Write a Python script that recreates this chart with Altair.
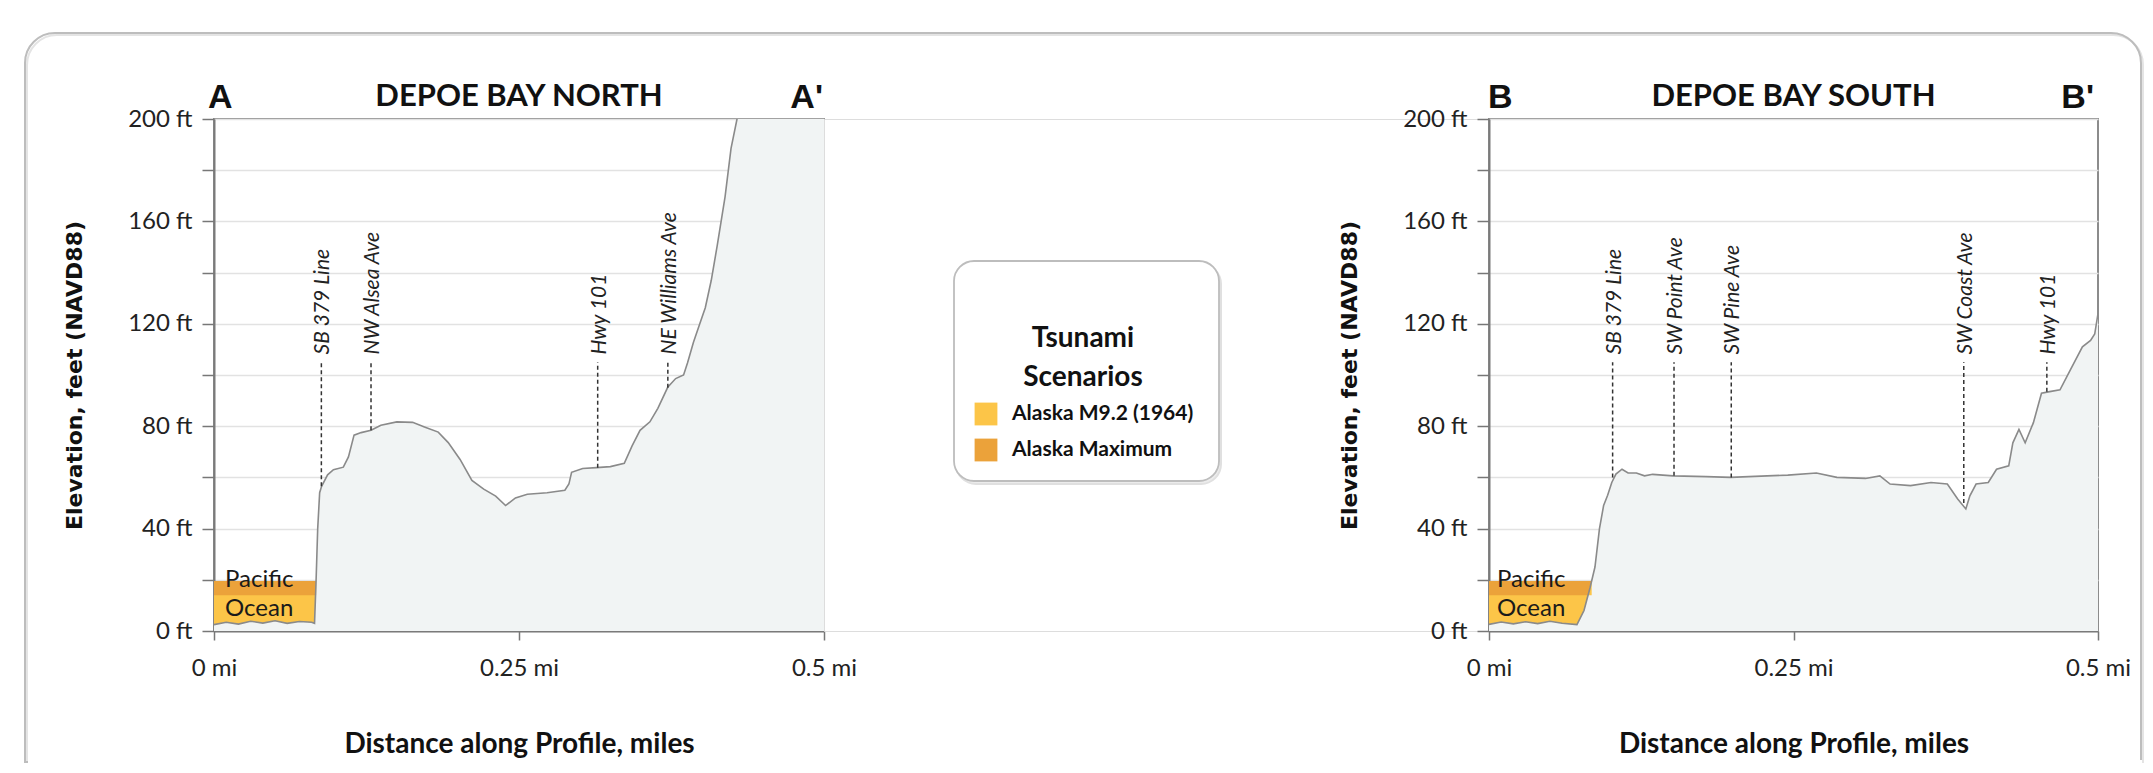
import altair as alt
import pandas as pd

# ---------------- data ----------------
north_dist = [0, 0.01, 0.02, 0.03, 0.04, 0.05, 0.06, 0.07, 0.08, 0.0824, 0.0837, 0.0850, 0.0866, 0.0882,
              0.0931, 0.0979, 0.1060, 0.1102, 0.1148, 0.1206, 0.1287, 0.1368, 0.1498, 0.1628, 0.1725,
              0.1838, 0.1920, 0.2017, 0.2114, 0.2211, 0.2309, 0.2390, 0.2471, 0.2568, 0.2730, 0.2876,
              0.2909, 0.2931, 0.3022, 0.3135, 0.3249, 0.3363, 0.3427, 0.3492, 0.3573, 0.3638, 0.3719,
              0.3784, 0.3849, 0.3881, 0.3930, 0.3979, 0.4027, 0.4076, 0.4125, 0.4189, 0.4238, 0.4287,
              0.4500, 0.5000]
north_elev = [2.5, 3.4, 2.7, 3.8, 3.1, 4.0, 3.0, 3.7, 3.4, 3.0, 20.0, 40.0, 54.0, 56.5,
              61.0, 63.0, 64.0, 68.0, 76.5, 77.5, 78.4, 80.4, 81.7, 81.5, 79.7,
              77.7, 73.6, 67.0, 58.8, 55.4, 52.7, 49.0, 52.0, 53.4, 54.0, 55.0,
              57.4, 62.0, 63.5, 63.8, 64.2, 65.5, 72.3, 78.4, 81.7, 87.0, 95.2,
              98.6, 100.0, 104.7, 112.8, 119.6, 126.3, 137.0, 150.6, 169.6, 188.5, 200.0,
              225.0, 260.0]

south_dist = [0, 0.01, 0.02, 0.03, 0.04, 0.05, 0.06, 0.0722, 0.0780, 0.0830, 0.0870, 0.0907, 0.0941,
              0.0974, 0.1008, 0.1042, 0.1092, 0.1142, 0.1210, 0.1277, 0.1344, 0.1512, 0.1781, 0.1983,
              0.2285, 0.2453, 0.2688, 0.2856, 0.3091, 0.3209, 0.3293, 0.3461, 0.3629, 0.3763, 0.3848,
              0.3915, 0.3948, 0.3999, 0.4099, 0.4167, 0.4267, 0.4301, 0.4351, 0.4402, 0.4469, 0.4536,
              0.4603, 0.4688, 0.4772, 0.4872, 0.4939, 0.4973, 0.5]
south_elev = [2.6, 3.5, 2.8, 3.6, 2.9, 3.8, 3.0, 2.5, 8.0, 17.0, 25.0, 40.0, 49.0,
              53.0, 58.0, 61.3, 63.2, 61.7, 61.7, 60.6, 61.2, 60.6, 60.3, 60.0,
              60.6, 60.9, 61.7, 60.0, 59.6, 60.6, 57.4, 56.8, 58.0, 57.4, 51.6,
              47.7, 52.8, 57.4, 58.0, 63.2, 64.5, 73.5, 78.7, 73.5, 81.3, 92.9,
              93.5, 94.2, 101.9, 111.0, 113.5, 116.0, 124.0]

north_sea_dist = [0, 0.01, 0.02, 0.03, 0.04, 0.05, 0.06, 0.07, 0.08, 0.0824, 0.0837]
north_sea_floor = [2.5, 3.4, 2.7, 3.8, 3.1, 4.0, 3.0, 3.7, 3.4, 3.0, 19.5]
south_sea_dist = [0, 0.01, 0.02, 0.03, 0.04, 0.05, 0.06, 0.0722, 0.0780, 0.0830, 0.0843]
south_sea_floor = [2.6, 3.5, 2.8, 3.6, 2.9, 3.8, 3.0, 2.5, 8.0, 17.0, 19.5]

scenarios = ["Alaska M9.2 (1964)", "Alaska Maximum"]
scenario_colors = ["#FCC548", "#EBA23A"]
scenario_levels = [14.0, 19.5]

north_streets = ["SB 379 Line", "NW Alsea Ave", "Hwy 101", "NE Williams Ave"]
north_street_dist = [0.088, 0.1287, 0.3145, 0.372]
north_street_base = [56.5, 78.4, 63.8, 95.0]

south_streets = ["SB 379 Line", "SW Point Ave", "SW Pine Ave", "SW Coast Ave", "Hwy 101"]
south_street_dist = [0.1015, 0.1519, 0.1989, 0.3898, 0.458]
south_street_base = [60.0, 60.6, 60.0, 50.0, 93.5]

marker_top = 105.0
label_start = 108.0

ocean_words = ["Pacific", "Ocean"]
ocean_word_elev = [19.9, 8.6]

x_ticks = [0, 0.25, 0.5]
y_ticks = list(range(0, 201, 20))

# ---------------- layout constants ----------------
PLOT_H = 512
LEFT_W = 610
RIGHT_W = 609
GAP_W = 665

LAND = "#F1F4F4"
LINE = "#8a8a8a"


def make_x(field, width):
    return alt.X(
        f"{field}:Q",
        scale=alt.Scale(domain=[0, 0.5], nice=False, zero=False),
        title="Distance along Profile, miles",
        axis=alt.Axis(
            values=x_ticks,
            labelExpr="datum.value + ' mi'",
            grid=False,
            tickSize=9, tickColor="#777", tickWidth=1.5,
            domainColor="#7a7a7a", domainWidth=2,
            labelFont="Lato", labelFontSize=24, labelColor="#222",
            labelPadding=16, labelFlush=False, labelOverlap=False,
            titleFont="Lato", titleFontWeight="bold", titleFontSize=28, titleColor="#111",
            titleX=width / 2, titleY=113, titleBaseline="middle", titleAlign="center",
        ),
    )


def make_y(field):
    return alt.Y(
        f"{field}:Q",
        scale=alt.Scale(domain=[0, 200], nice=False),
        title="Elevation, feet (NAVD88)",
        axis=alt.Axis(
            values=y_ticks,
            labelExpr="datum.value % 40 == 0 ? datum.value + ' ft' : ''",
            grid=True, gridColor="#e2e2e2", gridWidth=1.5,
            tickSize=12, tickColor="#777", tickWidth=1.5,
            domainColor="#7a7a7a", domainWidth=2,
            labelFont="Lato", labelFontSize=24, labelColor="#222",
            labelPadding=10, labelFlush=False, labelOverlap=False,
            titleFont="DejaVu Sans", titleFontWeight="bold", titleFontSize=22, titleColor="#111",
            titleX=-140, titleY=PLOT_H / 2, titleAngle=270,
            titleAlign="center", titleBaseline="middle",
        ),
    )


def profile_panel(dist, elev, sea_dist, sea_floor, streets, st_dist, st_base,
                  title, left_letter, right_letter, width, word_x, left_dx, right_dx, frame=False):
    prof = pd.DataFrame({"dist": dist, "elev": elev})
    sea_rows = []
    for name, lvl in zip(scenarios, scenario_levels):
        for d, f in zip(sea_dist, sea_floor):
            sea_rows.append({"dist": d, "elev": f, "level": lvl, "scenario": name})
    sea = pd.DataFrame(sea_rows)
    st = pd.DataFrame({"dist": st_dist, "elev": st_base, "top": [marker_top] * len(st_dist),
                       "lab": [label_start] * len(st_dist), "name": streets})
    words = pd.DataFrame({"dist": [word_x] * len(ocean_words), "elev": ocean_word_elev, "w": ocean_words})
    heads = pd.DataFrame({"dist": [0, 0.25, 0.5], "t": [left_letter, title, right_letter]})

    X = make_x("dist", width)
    Y = make_y("elev")

    land = alt.Chart(prof).mark_area(color=LAND, clip=True).encode(x=X, y=Y)
    line = alt.Chart(prof).mark_line(color=LINE, strokeWidth=1.6, clip=True).encode(x=X, y=Y)

    sea_layers = []
    for name, col in zip(reversed(scenarios), reversed(scenario_colors)):
        sea_layers.append(
            alt.Chart(sea).transform_filter(alt.datum.scenario == name)
            .mark_area(color=col, opacity=1)
            .encode(x=X, y=Y, y2="level:Q")
        )

    rules = alt.Chart(st).mark_rule(color="#333", strokeWidth=1.5, strokeDash=[4, 3]).encode(
        x=X, y=Y, y2="top:Q")
    labels = alt.Chart(st).mark_text(angle=270, align="left", baseline="middle", font="Lato",
                                     fontSize=21, fontStyle="italic", color="#222", dy=2).encode(
        x=X, y=make_y("lab"), text="name:N")
    ocean_txt = alt.Chart(words).mark_text(align="left", baseline="middle", font="Lato",
                                           fontSize=24, color="#1a1a1a").encode(
        x=X, y=Y, text="w:N")

    a_txt = alt.Chart(heads.iloc[[0]]).mark_text(align="left", baseline="alphabetic", font="Liberation Sans",
                                                fontWeight="bold", fontSize=34, color="#111", dx=left_dx).encode(
        x=X, y=alt.value(-11), text="t:N")
    t_txt = alt.Chart(heads.iloc[[1]]).mark_text(align="center", baseline="alphabetic", font="Lato",
                                                fontWeight="bold", fontSize=31, color="#111").encode(
        x=X, y=alt.value(-13), text="t:N")
    b_txt = alt.Chart(heads.iloc[[2]]).mark_text(align="right", baseline="alphabetic", font="Liberation Sans",
                                                fontWeight="bold", fontSize=34, color="#111", dx=right_dx).encode(
        x=X, y=alt.value(-11), text="t:N")

    layers = [land] + sea_layers + [line, rules, labels, ocean_txt, a_txt, t_txt, b_txt]

    if frame:
        one = pd.DataFrame({"k": [0]})
        shadow = alt.Chart(one).mark_rect(fillOpacity=0, stroke="#e4e4e4", strokeWidth=2,
                                          cornerRadiusTopLeft=30, cornerRadiusTopRight=30).encode(
            x=alt.value(-187), x2=alt.value(1929), y=alt.value(-84), y2=alt.value(643))
        panel = alt.Chart(one).mark_rect(fillOpacity=0, stroke="#bdbdbd", strokeWidth=2,
                                         cornerRadiusTopLeft=30, cornerRadiusTopRight=30).encode(
            x=alt.value(-189), x2=alt.value(1927), y=alt.value(-86), y2=alt.value(643))
        cover = alt.Chart(one).mark_rule(color="white", strokeWidth=4).encode(
            x=alt.value(-186), x2=alt.value(1928), y=alt.value(643))
        layers = layers + [shadow, panel, cover]

    return alt.layer(*layers).properties(
        width=width, height=PLOT_H,
        view=alt.ViewBackground(stroke="#8c8c8c", strokeWidth=2),
    )


left = profile_panel(north_dist, north_elev, north_sea_dist, north_sea_floor,
                     north_streets, north_street_dist, north_street_base,
                     "DEPOE BAY NORTH", "A", "A'", LEFT_W, 0.009, -6, -1, frame=True)
right = profile_panel(south_dist, south_elev, south_sea_dist, south_sea_floor,
                      south_streets, south_street_dist, south_street_base,
                      "DEPOE BAY SOUTH", "B", "B'", RIGHT_W, 0.0066, -1, -4)

# ---------------- legend panel ----------------
one = pd.DataFrame({"k": [0]})
leg_df = pd.DataFrame({"scenario": scenarios, "color": scenario_colors})

box_shadow = alt.Chart(one).mark_rect(fill="#ececec", stroke="#e0e0e0", strokeWidth=2, cornerRadius=20).encode(
    x=alt.value(132), x2=alt.value(397), y=alt.value(145), y2=alt.value(365))
box = alt.Chart(one).mark_rect(fill="white", stroke="#bdbdbd", strokeWidth=1.8, cornerRadius=20).encode(
    x=alt.value(130), x2=alt.value(395), y=alt.value(142), y2=alt.value(362))
leg_title = alt.Chart(pd.DataFrame({"t": ["Tsunami\nScenarios"]})).mark_text(
    lineBreak="\n", lineHeight=39, align="center", baseline="middle",
    font="Lato", fontWeight="bold", fontSize=28, color="#111").encode(
    x=alt.value(259), y=alt.value(219.5), text="t:N")
leg_y = alt.Y("scenario:N", scale=alt.Scale(domain=scenarios, range=[295, 331], padding=0), axis=None)
swatches = alt.Chart(leg_df).mark_square(size=520, opacity=1).encode(
    x=alt.value(162), y=leg_y,
    color=alt.Color("scenario:N", scale=alt.Scale(domain=scenarios, range=scenario_colors), legend=None))
leg_labels = alt.Chart(leg_df).mark_text(align="left", baseline="middle", font="Lato",
                                         fontWeight="bold", fontSize=21, color="#111").encode(
    x=alt.value(188), y=leg_y, text="scenario:N")

legend_panel = alt.layer(box_shadow, box, leg_title, swatches, leg_labels).properties(
    width=GAP_W, height=PLOT_H)

chart = alt.hconcat(left, legend_panel, right, spacing=0, bounds="flush").properties(
    padding={"left": 15, "top": 23, "right": 0, "bottom": 0},
).configure_view(strokeWidth=0).configure(font="Lato", background="white")

chart.save("out.html", embed_options={"renderer": "svg", "actions": False})
